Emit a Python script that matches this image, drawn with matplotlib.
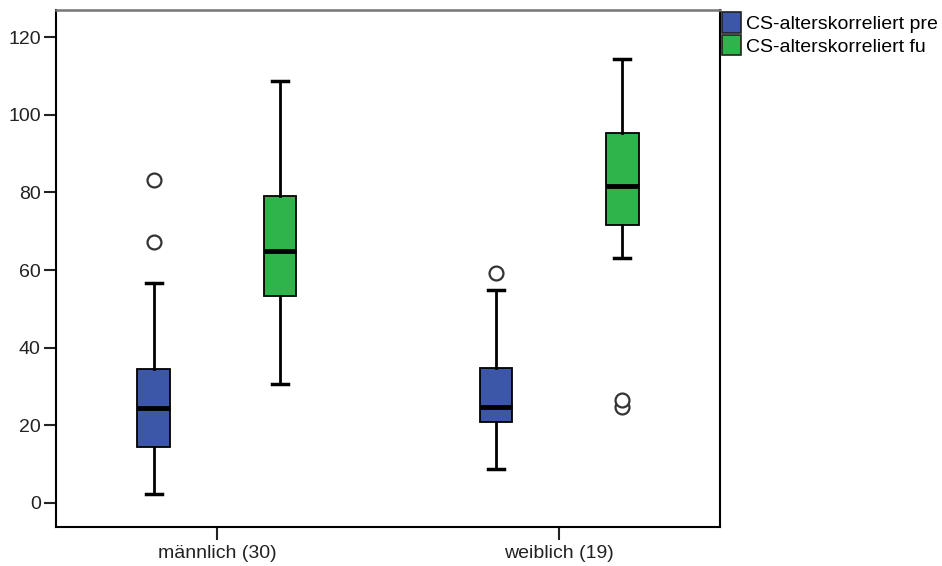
import numpy as np
import matplotlib.pyplot as plt
from matplotlib.patches import Patch

plt.rcParams['font.family'] = ['Liberation Sans', 'DejaVu Sans']

# Groups and series
groups = ['männlich (30)', 'weiblich (19)']
series = ['CS-alterskorreliert pre', 'CS-alterskorreliert fu']
colors = ['#3C56A8', '#2EB44B']

# Box statistics: [männlich, weiblich]
whislo = {'pre': [2.4, 8.8], 'fu': [30.6, 63.0]}
q1 = {'pre': [14.5, 20.9], 'fu': [53.3, 71.6]}
med = {'pre': [24.4, 24.8], 'fu': [65.0, 81.7]}
q3 = {'pre': [34.5, 34.7], 'fu': [79.0, 95.2]}
whishi = {'pre': [56.7, 54.9], 'fu': [108.6, 114.5]}
fliers = {'pre': [[67.1, 83.2], [59.2]], 'fu': [[], [24.7, 26.5]]}

yticks = [0, 20, 40, 60, 80, 100, 120]

fig = plt.figure(figsize=(9.42, 5.66), dpi=100)
ax = fig.add_axes([56 / 942, 1 - 527 / 566, 664 / 942, 517 / 566])

offset = 0.185
width = 0.094
for k, (key, col) in enumerate(zip(['pre', 'fu'], colors)):
    stats = []
    for g in range(len(groups)):
        stats.append(dict(whislo=whislo[key][g], q1=q1[key][g], med=med[key][g],
                          q3=q3[key][g], whishi=whishi[key][g],
                          fliers=fliers[key][g]))
    pos = np.arange(1, len(groups) + 1) + (k - 0.5) * 2 * offset
    ax.bxp(stats, positions=pos, widths=width, patch_artist=True,
           showfliers=True, capwidths=width * 0.5,
           boxprops=dict(facecolor=col, edgecolor='black', linewidth=1.3),
           medianprops=dict(color='black', linewidth=3.5),
           whiskerprops=dict(color='black', linewidth=2),
           capprops=dict(color='black', linewidth=2.5),
           flierprops=dict(marker='o', markerfacecolor='white',
                           markeredgecolor='#333333', markersize=10,
                           markeredgewidth=1.6))

ax.set_xlim(0.53, 2.47)
ax.set_ylim(-6.2, 127)
ax.set_xticks([1, 2])
ax.set_xticklabels(groups)
ax.set_yticks(yticks)
ax.tick_params(axis='both', direction='out', length=9, width=1.5,
               labelsize=14, colors='#222222', pad=2)
ax.tick_params(axis='x', pad=4)
for s in ['left', 'bottom', 'right']:
    ax.spines[s].set_linewidth(1.5)
ax.spines['top'].set_linewidth(1.8)
ax.spines['top'].set_color('#777777')

handles = [Patch(facecolor=c, edgecolor='#222222', linewidth=1.2) for c in colors]
fig.legend(handles, series, loc='upper left',
           bbox_to_anchor=(722 / 942, 1 - 12 / 566), frameon=False,
           handlelength=1.0, handleheight=1.25, handletextpad=0.25,
           labelspacing=0.1, borderpad=0, borderaxespad=0, fontsize=14)

fig.savefig('out.png', dpi=100)
